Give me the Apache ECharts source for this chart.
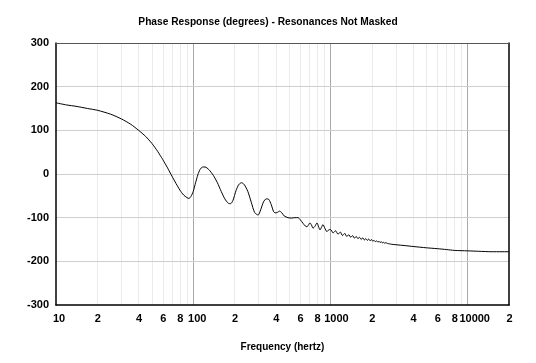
<!DOCTYPE html>
<html>
<head>
<meta charset="utf-8">
<script src="https://cdn.jsdelivr.net/npm/echarts@6/dist/echarts.min.js"></script>
<style>html,body{margin:0;padding:0;background:#fff;}#c{width:536px;height:363px;}</style>
</head>
<body>
<div id="c"></div>
<script>
// Frequency (Hz) and phase (degrees)
const freqs = [10,12,14,17,20,25,30,35,40,45,50,55,60,65,70,75,80,85,90,93,96,100,104,108,112,117,122,130,140,150,160,170,180,187,195,205,215,225,235,250,265,280,297,310,325,340,355,370,385,395,410,425,440,460,490,520,550,580,600,631,655,674,690,709,728,746,770,798,820,839,860,882,910,943,970,1000,1045,1090,1135,1180,1225,1270,1315,1360,1405,1450,1495,1540,1585,1630,1675,1720,1765,1810,1855,1900,1945,1990,2035,2080,2125,2170,2215,2260,2305,2350,2395,2440,2485,2530,2600,2700,2800,3000,3500,4000,5000,6000,7000,8000,10000,12000,15000,20000];
const phase = [163,158,155,150,146,137,126,114,100,86,70,52,33,14,-5,-22,-37,-48,-54,-56,-52,-40,-20,-2,10,16,16,10,-3,-20,-40,-57,-67,-68,-60,-38,-24,-20,-24,-40,-65,-88,-94,-82,-64,-57,-58,-70,-86,-89,-88,-85,-88,-96,-100,-101,-100,-100,-104,-113,-119,-121,-117,-112,-117,-124,-120,-112,-121,-128,-122,-116,-124,-132,-128,-127,-135,-130,-138,-133,-141,-136,-143,-139,-145,-141,-147,-143,-148,-145,-150,-146,-151,-148,-152,-149,-153,-150,-154,-152,-155,-153,-156,-154,-157,-155,-158,-156,-159,-157,-159,-160,-161,-162,-164,-166,-169,-171,-173,-175,-176,-177,-178,-178];

const xTickFreqs = [10,20,40,60,80,100,200,400,600,800,1000,2000,4000,6000,8000,10000,20000];
const xTickTexts = ['10','2','4','6','8','100','2','4','6','8','1000','2','4','6','8','10000','2'];
const minorGridFreqs = [20,30,40,50,60,70,80,90,200,300,400,500,600,700,800,900,2000,3000,4000,5000,6000,7000,8000,9000];
const majorGridFreqs = [100,1000,10000];
const yTicks = [-300,-200,-100,0,100,200,300];

const FMIN = 10, FMAX = 20000;
const lg = v => Math.log10(v);
const labelMap = {};
xTickFreqs.forEach((f, i) => { labelMap[lg(f).toFixed(5)] = xTickTexts[i]; });

const font = 'Liberation Sans, Arial, sans-serif';
const gridAxis = (vals, color, z) => ({
  type: 'value', min: lg(FMIN), max: lg(FMAX), position: 'top', z: z,
  axisLine: {show: false, onZero: false},
  axisTick: {show: false, customValues: vals.map(lg)},
  axisLabel: {show: false, customValues: vals.map(lg)},
  splitLine: {show: true, showMinLine: true, showMaxLine: true, lineStyle: {color: color, width: 1}}
});

const chart = echarts.init(document.getElementById('c'), null, {renderer: 'canvas'});
const labelStyle = {fontFamily: font, fontSize: 11, fontWeight: 'bold', color: '#000'};
chart.setOption({
  animation: false,
  backgroundColor: '#fff',
  title: {
    text: 'Phase Response (degrees) - Resonances Not Masked',
    left: 263, top: 12, textAlign: 'center',
    textStyle: {fontFamily: font, fontSize: 10.2, fontWeight: 'bold', color: '#000'}
  },
  grid: {left: 56, right: 27, top: 43, bottom: 58},
  xAxis: [
    {
      type: 'value', min: lg(FMIN), max: lg(FMAX), position: 'bottom', z: 4,
      name: 'Frequency (hertz)', nameLocation: 'middle', nameGap: 37,
      nameTextStyle: {fontFamily: font, fontSize: 10, fontWeight: 'bold', color: '#000'},
      axisLine: {show: true, onZero: false, lineStyle: {color: '#000', width: 1.5}},
      axisTick: {show: false, customValues: xTickFreqs.map(lg)},
      axisLabel: Object.assign({
        customValues: xTickFreqs.map(lg), margin: 8,
        formatter: v => {
          const t = labelMap[v.toFixed(5)] || '';
          return '{l' + t.length + '|' + t + '}';
        },
        rich: {
          l1: Object.assign({padding: [0, 0, 0, 1]}, labelStyle),
          l2: Object.assign({padding: [0, 0, 0, 6]}, labelStyle),
          l3: Object.assign({padding: [0, 0, 0, 8]}, labelStyle),
          l4: Object.assign({padding: [0, 0, 0, 12]}, labelStyle),
          l5: Object.assign({padding: [0, 0, 0, 14]}, labelStyle)
        }
      }, labelStyle),
      splitLine: {show: false}
    },
    gridAxis(minorGridFreqs, '#ebebeb', 1),
    gridAxis(majorGridFreqs, '#a8a8a8', 2),
    {
      type: 'value', min: lg(FMIN), max: lg(FMAX), position: 'top', z: 4,
      axisLine: {show: true, onZero: false, lineStyle: {color: '#555', width: 1}},
      axisTick: {show: false}, axisLabel: {show: false}, splitLine: {show: false}
    }
  ],
  yAxis: [
    {
      type: 'value', min: -300, max: 300, interval: 100, position: 'left', z: 4,
      axisLine: {show: true, onZero: false, lineStyle: {color: '#000', width: 1.5}},
      axisTick: {show: false},
      axisLabel: Object.assign({margin: 7, customValues: yTicks}, labelStyle),
      splitLine: {show: true, showMinLine: false, showMaxLine: false, lineStyle: {color: '#cfcfcf', width: 1}}
    },
    {
      type: 'value', min: -300, max: 300, interval: 100, position: 'right', z: 4,
      axisLine: {show: true, onZero: false, lineStyle: {color: '#000', width: 1.5}},
      axisTick: {show: false}, axisLabel: {show: false}, splitLine: {show: false}
    }
  ],
  series: [{
    type: 'line', xAxisIndex: 0, yAxisIndex: 0,
    data: freqs.map((f, i) => [lg(f), phase[i]]),
    showSymbol: false, smooth: 0.25,
    lineStyle: {color: '#000', width: 1},
    z: 5
  }]
});
</script>
</body>
</html>
